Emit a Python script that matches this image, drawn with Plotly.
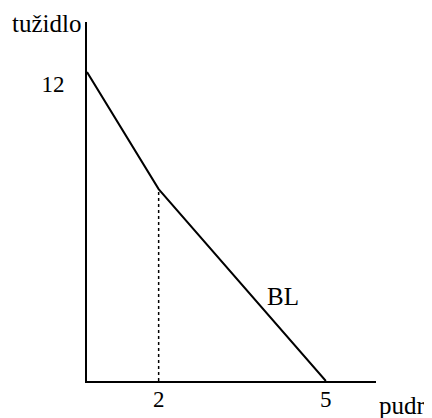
import plotly.graph_objects as go

# Budget line (schematic positions as drawn)
pudr = [0, 1.5, 5]          # x positions of the line's vertices
tuzidlo = [12, 7.45, 0]     # y values
kink_x = [1.5, 1.5]
kink_y = [0, 7.45]
x_tick_vals = [1.5, 5]
x_tick_text = ["2", "5"]
y_tick_vals = [12]
y_tick_text = ["12"]

FONT = dict(family="Liberation Serif, Times New Roman, serif", size=23, color="black")
LABEL_FONT = dict(family="Liberation Serif, Times New Roman, serif", size=25, color="black")

fig = go.Figure()
fig.add_trace(go.Scatter(x=kink_x, y=kink_y, mode="lines",
                         line=dict(color="black", width=1.5, dash="dot"),
                         hoverinfo="skip", showlegend=False))
fig.add_trace(go.Scatter(x=pudr, y=tuzidlo, mode="lines",
                         line=dict(color="black", width=2),
                         hoverinfo="skip", showlegend=False, cliponaxis=False))

# the page body adds an 8px margin, so the figure is sized to fit the window
fig.update_layout(
    width=424, height=410,
    margin=dict(l=79, r=56, t=14, b=37, autoexpand=False),
    paper_bgcolor="white", plot_bgcolor="white",
    font=FONT,
    showlegend=False,
    xaxis=dict(range=[0, 6.05], showgrid=False, zeroline=False,
               showline=True, linecolor="black", linewidth=2,
               tickvals=x_tick_vals, ticktext=x_tick_text, ticks="",
               ticklabelstandoff=-4, tickfont=FONT, fixedrange=True,
               automargin=False),
    yaxis=dict(range=[0, 13.94], showgrid=False, zeroline=False,
               showline=True, linecolor="black", linewidth=2,
               tickvals=y_tick_vals, ticktext=y_tick_text, ticks="",
               ticklabelstandoff=16, ticklabelshift=12, tickfont=FONT,
               fixedrange=True, automargin=False),
    annotations=[
        dict(text="tužidlo", xref="paper", yref="paper", x=-0.014, y=0.995,
             xanchor="right", yanchor="middle", showarrow=False, font=LABEL_FONT),
        dict(text="pudr", xref="paper", yref="paper", x=1.18, y=-0.067,
             xanchor="right", yanchor="middle", showarrow=False, font=LABEL_FONT),
        dict(text="BL", xref="paper", yref="paper", x=0.678, y=0.234,
             xanchor="center", yanchor="middle", showarrow=False, font=LABEL_FONT),
    ],
)

fig.write_html("out.html", config={"displayModeBar": False})
